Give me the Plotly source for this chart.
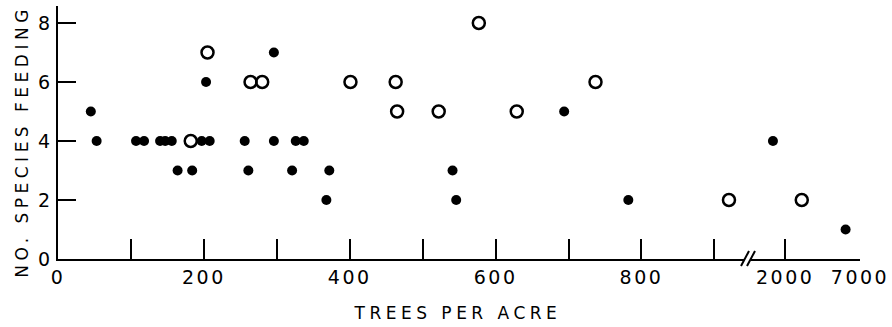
import plotly.graph_objects as go

# ---- data (trees per acre, number of species feeding) ----
filled_x = [45, 53, 107, 118, 140, 147, 156, 197, 208, 256, 296, 326, 337,
            164, 184, 261, 321, 372, 368, 203, 296, 694, 541, 546, 782]
filled_y = [5, 4, 4, 4, 4, 4, 4, 4, 4, 4, 4, 4, 4,
            3, 3, 3, 3, 3, 2, 6, 7, 5, 3, 2, 2]
open_x = [182, 205, 264, 280, 401, 463, 465, 522, 577, 629, 737, 920]
open_y = [4, 7, 6, 6, 6, 6, 5, 5, 8, 5, 6, 2]
# points beyond the axis break
filled_hi_x = [1630, 5500]
filled_hi_y = [4, 1]
open_hi_x = [2640]
open_hi_y = [2]

left_tickvals = [0, 100, 200, 300, 400, 500, 600, 700, 800, 900]
left_ticktext = ["0", "", "200", "", "400", "", "600", "", "800", ""]
right_tickvals = [2000, 7000]
right_ticktext = ["2000", "7000"]
y_tickvals = [0, 2, 4, 6, 8]
y_ticktext = ["0", "2", "4", "6", "8"]

# ---- layout geometry ----
W, H = 892, 327
L, R, T, B = 58, 32, 6, 68
pw = W - L - R
ph = H - T - B

def px_x(p):
    return (p - L) / pw

def px_y(p):
    return (H - B - p) / ph

FONT = "DejaVu Sans"
fig = go.Figure()

filled_style = dict(color="black", size=10, symbol="circle")
open_style = dict(color="black", size=12, symbol="circle-open", line=dict(width=2.5, color="black"))

fig.add_trace(go.Scatter(x=filled_x, y=filled_y, mode="markers", marker=filled_style,
                         xaxis="x", yaxis="y", showlegend=False))
fig.add_trace(go.Scatter(x=open_x, y=open_y, mode="markers", marker=open_style,
                         xaxis="x", yaxis="y", showlegend=False))
fig.add_trace(go.Scatter(x=filled_hi_x, y=filled_hi_y, mode="markers", marker=filled_style,
                         xaxis="x2", yaxis="y", showlegend=False))
fig.add_trace(go.Scatter(x=open_hi_x, y=open_hi_y, mode="markers", marker=open_style,
                         xaxis="x2", yaxis="y", showlegend=False))

tickfont = dict(family=FONT, size=19, color="black")
axis_common = dict(showgrid=False, zeroline=False, showline=True, linecolor="black",
                   linewidth=2, ticks="inside", ticklen=20, tickwidth=2, tickcolor="black",
                   tickfont=tickfont, fixedrange=True)

left_end = px_x(744)
right_start = px_x(751)
fig.update_layout(
    width=W, height=H,
    margin=dict(l=L, r=R, t=T, b=B, pad=0),
    paper_bgcolor="white", plot_bgcolor="white",
    xaxis=dict(domain=[0, left_end], range=[0, (744 - 58.3) / 0.729],
               tickmode="array", tickvals=left_tickvals, ticktext=left_ticktext,
               anchor="y", ticklabelstandoff=0, **axis_common),
    xaxis2=dict(domain=[right_start, 1], type="log", range=[3.0525, 3.8451],
                tickmode="array", tickvals=right_tickvals, ticktext=right_ticktext,
                anchor="y", ticklabelstandoff=0, **axis_common),
    yaxis=dict(domain=[0, 1], range=[0, ph / 29.5],
               tickmode="array", tickvals=y_tickvals, ticktext=y_ticktext,
               ticklabelstandoff=2, **{**axis_common, "ticklen": 18}),
)

# axis break marks
for dx in (0, 6):
    fig.add_shape(type="line", xref="paper", yref="paper",
                  x0=px_x(741 + dx), y0=px_y(266), x1=px_x(749 + dx), y1=px_y(251),
                  line=dict(color="black", width=2))

fig.add_annotation(text="TREES PER ACRE", xref="paper", yref="paper",
                   x=px_x(457), y=px_y(313), xanchor="center", yanchor="middle",
                   showarrow=False, font=dict(family=FONT, size=17, color="black"))
fig.add_annotation(text="NO. SPECIES FEEDING", xref="paper", yref="paper",
                   x=px_x(22), y=px_y(142), xanchor="center", yanchor="middle",
                   textangle=-90, showarrow=False,
                   font=dict(family=FONT, size=17, color="black"))

post = """
document.body.style.margin = '0';
var gd = document.getElementById('{plot_id}');
gd.querySelectorAll('.annotation-text').forEach(function(t){ t.style.letterSpacing = '4.5px'; });
gd.querySelectorAll('.xtick text, .x2tick text').forEach(function(t){ t.style.letterSpacing = '2.5px'; });
"""

fig.write_html("out.html", post_script=post, config={"displayModeBar": False})
